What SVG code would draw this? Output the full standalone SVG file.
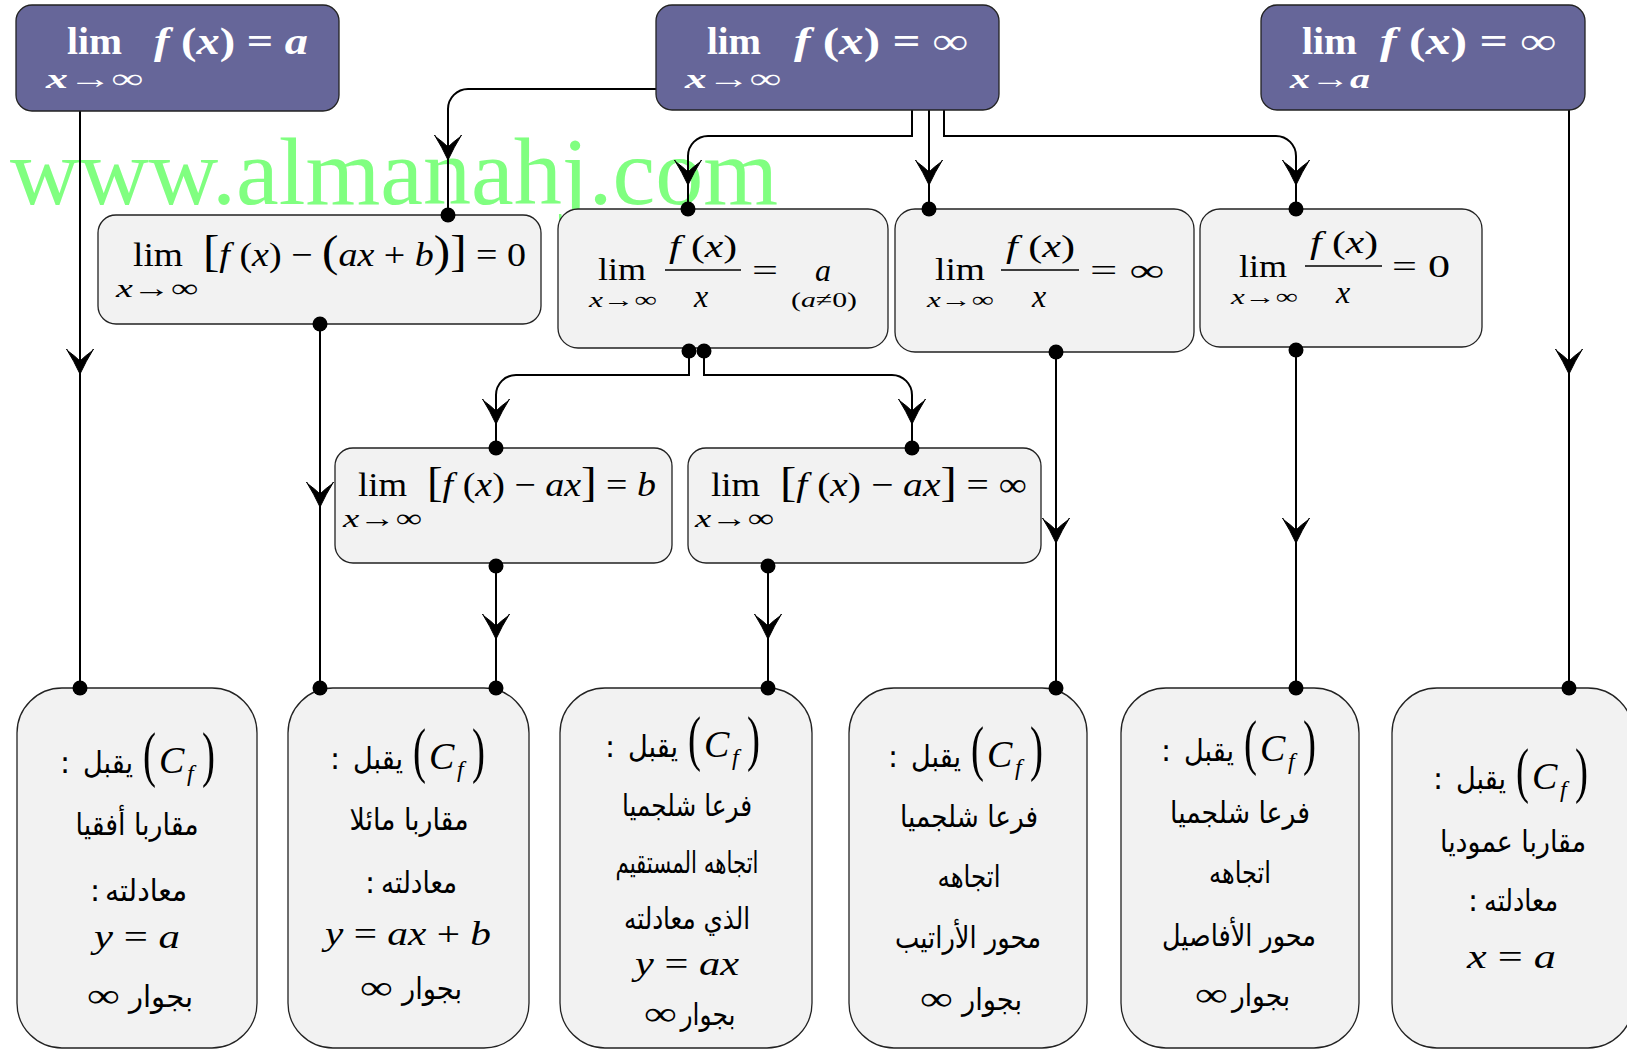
<svg xmlns="http://www.w3.org/2000/svg" width="1627" height="1050" viewBox="0 0 1627 1050">
<style>
.top rect{fill:#666699;stroke:#222;stroke-width:1.3}
.nd rect{fill:#f2f2f2;stroke:#222;stroke-width:1.3}
.tw{fill:#fff;font-family:"Liberation Serif",serif;font-weight:bold}
.m{fill:#000;font-family:"Liberation Serif",serif}
.i{font-style:italic}
.ar{font-family:"DejaVu Sans",sans-serif;fill:#000;font-size:30px;text-anchor:middle}
.ln{fill:none;stroke:#000;stroke-width:2}
.bar{stroke:#000;stroke-width:1.5}
.wm{fill:#80ff80;font-family:"Liberation Serif",serif;font-size:96px}
</style>
<defs>
<path id="ah" d="M0,1 Q-6,-12 -13.5,-24 L-12,-22 Q-5,-17 0,-12 Q5,-17 12,-22 L13.5,-24 Q6,-12 0,1 Z" fill="#000" stroke="#000" stroke-width="1" stroke-linejoin="round"/>
<circle id="dt" r="7.5" fill="#000"/>
<g id="cf">
<text class="m" x="0" y="2" font-size="62" textLength="13" lengthAdjust="spacingAndGlyphs">(</text>
<text class="m i" x="16" y="0" font-size="38">C</text>
<text class="m i" x="44" y="8" font-size="24">f</text>
<text class="m" x="59" y="2" font-size="62" textLength="13" lengthAdjust="spacingAndGlyphs">)</text>
</g>
<g id="l1">
<text class="ar" x="-78" y="0">:</text>
<text class="ar" x="-35" y="0" textLength="50" lengthAdjust="spacingAndGlyphs">يقبل</text>
<use href="#cf"/>
</g>
</defs>

<text class="wm" x="10" y="204" textLength="768" lengthAdjust="spacingAndGlyphs">www.almanahj.com</text>

<g id="connectors">
<path class="ln" d="M80,111 V688"/>
<path class="ln" d="M656,89 H468 A20,20 0 0 0 448,109 V215"/>
<path class="ln" d="M912,110 V136 H708 A20,20 0 0 0 688,156 V209"/>
<path class="ln" d="M929,110 V209"/>
<path class="ln" d="M944,110 V136 H1276 A20,20 0 0 1 1296,156 V209"/>
<path class="ln" d="M1569,110 V688"/>
<path class="ln" d="M320,324 V688"/>
<path class="ln" d="M689,350 V375 H516 A20,20 0 0 0 496,395 V448"/>
<path class="ln" d="M704,350 V375 H892 A20,20 0 0 1 912,395 V448"/>
<path class="ln" d="M496,563 V688"/>
<path class="ln" d="M768,563 V688"/>
<path class="ln" d="M1056,352 V688"/>
<path class="ln" d="M1296,347 V688"/>
<use href="#ah" x="80" y="373"/>
<use href="#ah" x="448" y="159"/>
<use href="#ah" x="688" y="184"/>
<use href="#ah" x="929" y="184"/>
<use href="#ah" x="1296" y="184"/>
<use href="#ah" x="1569" y="373"/>
<use href="#ah" x="320" y="506"/>
<use href="#ah" x="496" y="423"/>
<use href="#ah" x="912" y="423"/>
<use href="#ah" x="496" y="638"/>
<use href="#ah" x="768" y="638"/>
<use href="#ah" x="1056" y="542"/>
<use href="#ah" x="1296" y="542"/>
</g>

<g id="nA" class="top">
<rect x="16" y="5" width="323" height="106" rx="16"/>
<text class="tw" x="67" y="54" font-size="38" textLength="55" lengthAdjust="spacingAndGlyphs">lim</text>
<text class="tw" x="154" y="54" font-size="38" textLength="154" lengthAdjust="spacingAndGlyphs"><tspan class="i">f</tspan> (<tspan class="i">x</tspan>) = <tspan class="i">a</tspan></text>
<text class="tw" x="46" y="88" font-size="28" textLength="97" lengthAdjust="spacingAndGlyphs"><tspan class="i">x</tspan>→∞</text>
</g>
<g id="nB" class="top">
<rect x="656" y="5" width="343" height="105" rx="16"/>
<text class="tw" x="707" y="54" font-size="38" textLength="54" lengthAdjust="spacingAndGlyphs">lim</text>
<text class="tw" x="794" y="54" font-size="38" textLength="174" lengthAdjust="spacingAndGlyphs"><tspan class="i">f</tspan> (<tspan class="i">x</tspan>) = ∞</text>
<text class="tw" x="685" y="88" font-size="28" textLength="96" lengthAdjust="spacingAndGlyphs"><tspan class="i">x</tspan>→∞</text>
</g>
<g id="nC" class="top">
<rect x="1261" y="5" width="324" height="105" rx="16"/>
<text class="tw" x="1302" y="54" font-size="38" textLength="55" lengthAdjust="spacingAndGlyphs">lim</text>
<text class="tw" x="1380" y="54" font-size="38" textLength="176" lengthAdjust="spacingAndGlyphs"><tspan class="i">f</tspan> (<tspan class="i">x</tspan>) = ∞</text>
<text class="tw" x="1290" y="88" font-size="28" textLength="80" lengthAdjust="spacingAndGlyphs"><tspan class="i">x</tspan>→<tspan class="i">a</tspan></text>
</g>

<g id="nD" class="nd">
<rect x="98" y="215" width="443" height="109" rx="18"/>
<text class="m" x="133" y="266" font-size="34" textLength="50" lengthAdjust="spacingAndGlyphs">lim</text>
<text class="m" x="203" y="266" font-size="34" textLength="323" lengthAdjust="spacingAndGlyphs"><tspan font-size="44">[</tspan><tspan class="i">f</tspan> (<tspan class="i">x</tspan>) − <tspan font-size="44">(</tspan><tspan class="i">ax</tspan> + <tspan class="i">b</tspan><tspan font-size="44">)]</tspan> = 0</text>
<text class="m" x="116" y="297" font-size="26" textLength="82" lengthAdjust="spacingAndGlyphs"><tspan class="i">x</tspan>→∞</text>
</g>
<g id="nE" class="nd">
<rect x="558" y="209" width="330" height="139" rx="20"/>
<text class="m" x="598" y="280" font-size="32" textLength="48" lengthAdjust="spacingAndGlyphs">lim</text>
<text class="m" x="589" y="307" font-size="22" textLength="68" lengthAdjust="spacingAndGlyphs"><tspan class="i">x</tspan>→∞</text>
<text class="m" x="669" y="257" font-size="32" textLength="68" lengthAdjust="spacingAndGlyphs"><tspan class="i">f</tspan> (<tspan class="i">x</tspan>)</text>
<line class="bar" x1="665" y1="270" x2="741" y2="270"/>
<text class="m i" x="701" y="307" font-size="32" text-anchor="middle">x</text>
<text class="m" x="752" y="281" font-size="32" textLength="26" lengthAdjust="spacingAndGlyphs">=</text>
<text class="m i" x="823" y="281" font-size="32" text-anchor="middle">a</text>
<text class="m" x="791" y="307" font-size="22" textLength="66" lengthAdjust="spacingAndGlyphs">(<tspan class="i">a</tspan>≠0)</text>
</g>
<g id="nF" class="nd">
<rect x="895" y="209" width="299" height="143" rx="20"/>
<text class="m" x="935" y="280" font-size="32" textLength="50" lengthAdjust="spacingAndGlyphs">lim</text>
<text class="m" x="927" y="307" font-size="22" textLength="67" lengthAdjust="spacingAndGlyphs"><tspan class="i">x</tspan>→∞</text>
<text class="m" x="1006" y="257" font-size="32" textLength="69" lengthAdjust="spacingAndGlyphs"><tspan class="i">f</tspan> (<tspan class="i">x</tspan>)</text>
<line class="bar" x1="1001" y1="270" x2="1079" y2="270"/>
<text class="m i" x="1039" y="307" font-size="32" text-anchor="middle">x</text>
<text class="m" x="1090" y="281" font-size="32" textLength="74" lengthAdjust="spacingAndGlyphs">= ∞</text>
</g>
<g id="nG" class="nd">
<rect x="1200" y="209" width="282" height="138" rx="20"/>
<text class="m" x="1239" y="277" font-size="32" textLength="48" lengthAdjust="spacingAndGlyphs">lim</text>
<text class="m" x="1231" y="304" font-size="22" textLength="67" lengthAdjust="spacingAndGlyphs"><tspan class="i">x</tspan>→∞</text>
<text class="m" x="1310" y="253" font-size="32" textLength="68" lengthAdjust="spacingAndGlyphs"><tspan class="i">f</tspan> (<tspan class="i">x</tspan>)</text>
<line class="bar" x1="1305" y1="266" x2="1382" y2="266"/>
<text class="m i" x="1343" y="303" font-size="32" text-anchor="middle">x</text>
<text class="m" x="1392" y="277" font-size="32" textLength="58" lengthAdjust="spacingAndGlyphs">= 0</text>
</g>
<g id="nH" class="nd">
<rect x="335" y="448" width="337" height="115" rx="18"/>
<text class="m" x="358" y="496" font-size="34" textLength="49" lengthAdjust="spacingAndGlyphs">lim</text>
<text class="m" x="427" y="496" font-size="34" textLength="229" lengthAdjust="spacingAndGlyphs"><tspan font-size="42">[</tspan><tspan class="i">f</tspan> (<tspan class="i">x</tspan>) − <tspan class="i">ax</tspan><tspan font-size="42">]</tspan> = <tspan class="i">b</tspan></text>
<text class="m" x="343" y="527" font-size="26" textLength="79" lengthAdjust="spacingAndGlyphs"><tspan class="i">x</tspan>→∞</text>
</g>
<g id="nI" class="nd">
<rect x="688" y="448" width="353" height="115" rx="18"/>
<text class="m" x="711" y="496" font-size="34" textLength="49" lengthAdjust="spacingAndGlyphs">lim</text>
<text class="m" x="780" y="496" font-size="34" textLength="247" lengthAdjust="spacingAndGlyphs"><tspan font-size="42">[</tspan><tspan class="i">f</tspan> (<tspan class="i">x</tspan>) − <tspan class="i">ax</tspan><tspan font-size="42">]</tspan> = ∞</text>
<text class="m" x="695" y="527" font-size="26" textLength="79" lengthAdjust="spacingAndGlyphs"><tspan class="i">x</tspan>→∞</text>
</g>

<g id="b1" class="nd">
<rect x="17" y="688" width="240" height="360" rx="45"/>
<use href="#l1" x="143" y="773"/>
<text class="ar" x="137" y="835" textLength="123" lengthAdjust="spacingAndGlyphs">مقاربا أفقيا</text>
<text class="ar" x="146" y="901" textLength="82" lengthAdjust="spacingAndGlyphs">معادلته</text>
<text class="ar" x="95" y="901">:</text>
<text class="m" x="94" y="948" font-size="34" textLength="86" lengthAdjust="spacingAndGlyphs"><tspan class="i">y</tspan> = <tspan class="i">a</tspan></text>
<text class="m" x="87" y="1007" font-size="34" textLength="33" lengthAdjust="spacingAndGlyphs">∞</text>
<text class="ar" x="161" y="1007" textLength="64" lengthAdjust="spacingAndGlyphs">بجوار</text>
</g>
<g id="b2" class="nd">
<rect x="288" y="688" width="241" height="360" rx="45"/>
<use href="#l1" x="413" y="769"/>
<text class="ar" x="409" y="830" textLength="119" lengthAdjust="spacingAndGlyphs">مقاربا مائلا</text>
<text class="ar" x="419" y="893" textLength="76" lengthAdjust="spacingAndGlyphs">معادلته</text>
<text class="ar" x="370" y="893">:</text>
<text class="m" x="325" y="945" font-size="34" textLength="166" lengthAdjust="spacingAndGlyphs"><tspan class="i">y</tspan> = <tspan class="i">ax</tspan> + <tspan class="i">b</tspan></text>
<text class="m" x="360" y="999" font-size="34" textLength="33" lengthAdjust="spacingAndGlyphs">∞</text>
<text class="ar" x="432" y="999" textLength="60" lengthAdjust="spacingAndGlyphs">بجوار</text>
</g>
<g id="b3" class="nd">
<rect x="560" y="688" width="252" height="360" rx="45"/>
<use href="#l1" x="688" y="757"/>
<text class="ar" x="687" y="816" textLength="130" lengthAdjust="spacingAndGlyphs">فرعا شلجميا</text>
<text class="ar" x="687" y="873" textLength="143" lengthAdjust="spacingAndGlyphs">اتجاهه المستقيم</text>
<text class="ar" x="687" y="929" textLength="126" lengthAdjust="spacingAndGlyphs">الذي معادلته</text>
<text class="m" x="635" y="975" font-size="34" textLength="104" lengthAdjust="spacingAndGlyphs"><tspan class="i">y</tspan> = <tspan class="i">ax</tspan></text>
<text class="m" x="644" y="1025" font-size="34" textLength="33" lengthAdjust="spacingAndGlyphs">∞</text>
<text class="ar" x="708" y="1025" textLength="55" lengthAdjust="spacingAndGlyphs">بجوار</text>
</g>
<g id="b4" class="nd">
<rect x="849" y="688" width="238" height="360" rx="45"/>
<use href="#l1" x="971" y="767"/>
<text class="ar" x="969" y="827" textLength="138" lengthAdjust="spacingAndGlyphs">فرعا شلجميا</text>
<text class="ar" x="969" y="887" textLength="63" lengthAdjust="spacingAndGlyphs">اتجاهه</text>
<text class="ar" x="968" y="948" textLength="146" lengthAdjust="spacingAndGlyphs">محور الأراتيب</text>
<text class="m" x="920" y="1010" font-size="34" textLength="33" lengthAdjust="spacingAndGlyphs">∞</text>
<text class="ar" x="992" y="1010" textLength="60" lengthAdjust="spacingAndGlyphs">بجوار</text>
</g>
<g id="b5" class="nd">
<rect x="1121" y="688" width="238" height="360" rx="45"/>
<use href="#l1" x="1244" y="761"/>
<text class="ar" x="1240" y="823" textLength="140" lengthAdjust="spacingAndGlyphs">فرعا شلجميا</text>
<text class="ar" x="1240" y="883" textLength="62" lengthAdjust="spacingAndGlyphs">اتجاهه</text>
<text class="ar" x="1239" y="946" textLength="154" lengthAdjust="spacingAndGlyphs">محور الأفاصيل</text>
<text class="m" x="1195" y="1006" font-size="34" textLength="33" lengthAdjust="spacingAndGlyphs">∞</text>
<text class="ar" x="1261" y="1006" textLength="58" lengthAdjust="spacingAndGlyphs">بجوار</text>
</g>
<g id="b6" class="nd">
<rect x="1392" y="688" width="241" height="360" rx="45"/>
<use href="#l1" x="1516" y="789"/>
<text class="ar" x="1513" y="852" textLength="146" lengthAdjust="spacingAndGlyphs">مقاربا عموديا</text>
<text class="ar" x="1521" y="911" textLength="74" lengthAdjust="spacingAndGlyphs">معادلته</text>
<text class="ar" x="1473" y="911">:</text>
<text class="m" x="1467" y="968" font-size="34" textLength="89" lengthAdjust="spacingAndGlyphs"><tspan class="i">x</tspan> = <tspan class="i">a</tspan></text>
</g>

<g id="dots">
<use href="#dt" x="80" y="688"/>
<use href="#dt" x="448" y="215"/>
<use href="#dt" x="688" y="209"/>
<use href="#dt" x="929" y="209"/>
<use href="#dt" x="1296" y="209"/>
<use href="#dt" x="1569" y="688"/>
<use href="#dt" x="320" y="324"/>
<use href="#dt" x="320" y="688"/>
<use href="#dt" x="689" y="351"/>
<use href="#dt" x="704" y="351"/>
<use href="#dt" x="496" y="448"/>
<use href="#dt" x="912" y="448"/>
<use href="#dt" x="496" y="566"/>
<use href="#dt" x="496" y="688"/>
<use href="#dt" x="768" y="566"/>
<use href="#dt" x="768" y="688"/>
<use href="#dt" x="1056" y="352"/>
<use href="#dt" x="1056" y="688"/>
<use href="#dt" x="1296" y="350"/>
<use href="#dt" x="1296" y="688"/>
</g>
</svg>
